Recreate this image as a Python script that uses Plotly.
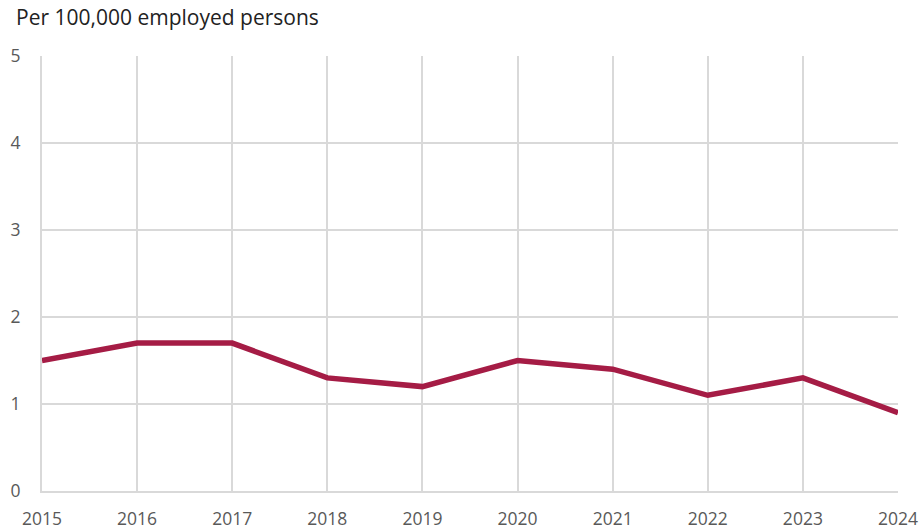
import plotly.graph_objects as go

# Annual rate per 100,000 employed persons
years = [2015, 2016, 2017, 2018, 2019, 2020, 2021, 2022, 2023, 2024]
rate = [1.5, 1.7, 1.7, 1.3, 1.2, 1.5, 1.4, 1.1, 1.3, 0.9]
y_ticks = [0, 1, 2, 3, 4, 5]

LINE_COLOR = "#A51C45"
GRID_COLOR = "#d9d9d9"
FONT = "Open Sans"

fig = go.Figure()
fig.add_trace(go.Scatter(
    x=years, y=rate, mode="lines",
    line=dict(color=LINE_COLOR, width=5.5),
    hoverinfo="x+y",
    showlegend=False,
))

fig.update_layout(
    width=922, height=531,
    margin=dict(l=42, r=24, t=56, b=40),
    plot_bgcolor="white", paper_bgcolor="white",
    font=dict(family=FONT, size=17.5, color="#595959"),
    annotations=[dict(
        text="Per 100,000 employed persons",
        xref="paper", yref="paper", x=-28 / 856, y=1.0,
        xanchor="left", yanchor="bottom", yshift=23,
        showarrow=False, font=dict(family=FONT, size=21, color="#222222"),
    )],
)
fig.update_xaxes(
    range=[2015, 2024], tickvals=years, ticktext=[str(y) for y in years],
    showgrid=True, gridcolor=GRID_COLOR, gridwidth=2,
    showline=True, linecolor=GRID_COLOR, linewidth=2,
    zeroline=False, ticks="", ticklabelstandoff=11, automargin=False,
)
fig.update_yaxes(
    range=[0, 5], tickvals=y_ticks,
    showgrid=True, gridcolor=GRID_COLOR, gridwidth=2,
    showline=True, linecolor=GRID_COLOR, linewidth=2,
    zeroline=False, ticks="", ticklabelstandoff=16, automargin=False,
)

fig.write_html("out.html")
